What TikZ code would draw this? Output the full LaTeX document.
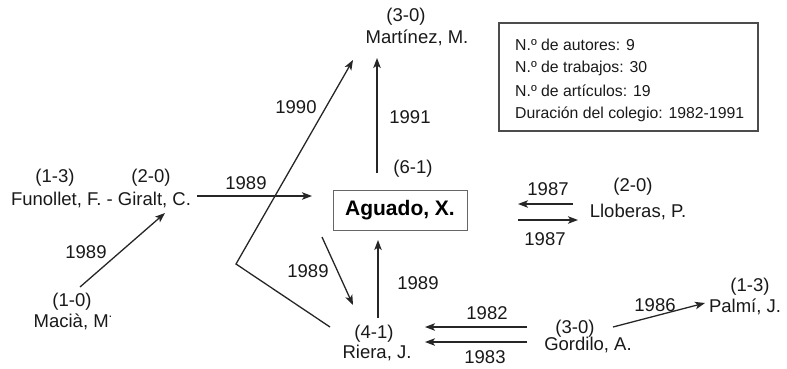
\documentclass[tikz,border=0pt]{standalone}
\usepackage{fontspec}
\setmainfont{Liberation Sans}
\usetikzlibrary{arrows.meta}
\begin{document}
\begin{tikzpicture}[x=1pt,y=-1pt,
  lbl/.style={inner sep=0pt,font=\fontsize{18.5}{20}\selectfont,text=black!90},
  info/.style={inner sep=0pt,anchor=west,font=\fontsize{15.8}{18}\selectfont,text=black!90},
  conn/.style={line width=1.3pt,draw=black!85},
  arr/.style={conn,-{Stealth[length=10pt,width=7.5pt,inset=2.5pt]}}]
\useasboundingbox (0,0) rectangle (787,368);
% info box
\node[draw=black!70,line width=1.4pt,minimum width=259pt,minimum height=108pt,inner sep=0pt] (infobox) at (628.5,77) {};
\node[info] (i1) at (515,45) {N.º de autores: 9};
\node[info] (i2) at (515,68) {N.º de trabajos: 30};
\node[info] (i3) at (515,91) {N.º de artículos: 19};
\node[info] (i4) at (515,114) {Duración del colegio: 1982-1991};
% central node
\node[draw=black!60,line width=0.9pt,minimum width=134pt,minimum height=40pt,inner sep=0pt,font=\fontsize{21}{24}\selectfont\bfseries] (aguado) at (400,210) {Aguado, X.};
\node[lbl] (a61) at (413,169) {(6-1)};
% authors
\node[lbl] (m30) at (406,17) {(3-0)};
\node[lbl] (martinez) at (417,38) {Martínez, M.};
\node[lbl] (f13) at (55,178) {(1-3)};
\node[lbl] (g20) at (151,178) {(2-0)};
\node[lbl] (giralt) at (101,200) {Funollet, F. - Giralt, C.};
\node[lbl] (m10) at (72,302) {(1-0)};
\node[lbl] (macia) at (73,322) {Macià, M\raisebox{1.0ex}{\fontsize{13}{13}\selectfont .}};
\node[lbl] (r41) at (374,334) {(4-1)};
\node[lbl] (riera) at (377,353) {Riera, J.};
\node[lbl] (l20) at (633,187) {(2-0)};
\node[lbl] (lloberas) at (638,212) {Lloberas, P.};
\node[lbl] (g30) at (575,329) {(3-0)};
\node[lbl] (gordilo) at (588,345) {Gordilo, A.};
\node[lbl] (p13) at (750,287) {(1-3)};
\node[lbl] (palmi) at (745,307) {Palmí, J.};
% connector end points
\coordinate (gA) at (197,196); \coordinate (aG) at (312,196);
\coordinate (mG) at (80,287); \coordinate (gM) at (165,213);
\coordinate (rK) at (330,327); \coordinate (kink) at (236,264); \coordinate (kM) at (353,60);
\coordinate (aM) at (377,173); \coordinate (mA) at (377,58);
\coordinate (aR) at (322,237); \coordinate (rA) at (353,305);
\coordinate (rU) at (378,318); \coordinate (uA) at (378,240);
\coordinate (lA) at (573,204); \coordinate (al) at (518,204);
\coordinate (aL) at (518,220); \coordinate (la) at (578,220);
\coordinate (gR1) at (527,327); \coordinate (rG1) at (425,327);
\coordinate (gR2) at (527,342); \coordinate (rG2) at (425,342);
\coordinate (gP) at (613,327); \coordinate (pG) at (705,303);
% connectors
\draw[arr] (gA) -- (aG);
\draw[arr] (mG) -- (gM);
\draw[arr] (rK) -- (kink) -- (kM);
\draw[arr] (aM) -- (mA);
\draw[arr] (aR) -- (rA);
\draw[arr] (rU) -- (uA);
\draw[arr] (lA) -- (al);
\draw[arr] (aL) -- (la);
\draw[arr] (gR1) -- (rG1);
\draw[arr] (gR2) -- (rG2);
\draw[arr] (gP) -- (pG);
% year labels
\node[lbl] (y1) at (246,183) {1989};
\node[lbl] (y2) at (86,252) {1989};
\node[lbl] (y3) at (296,107) {1990};
\node[lbl] (y4) at (410,117) {1991};
\node[lbl] (y5) at (308,271) {1989};
\node[lbl] (y6) at (418,283) {1989};
\node[lbl] (y7) at (548,189) {1987};
\node[lbl] (y8) at (545,239) {1987};
\node[lbl] (y9) at (487,313) {1982};
\node[lbl] (y10) at (485,357) {1983};
\node[lbl] (y11) at (655,305) {1986};
\end{tikzpicture}
\end{document}
